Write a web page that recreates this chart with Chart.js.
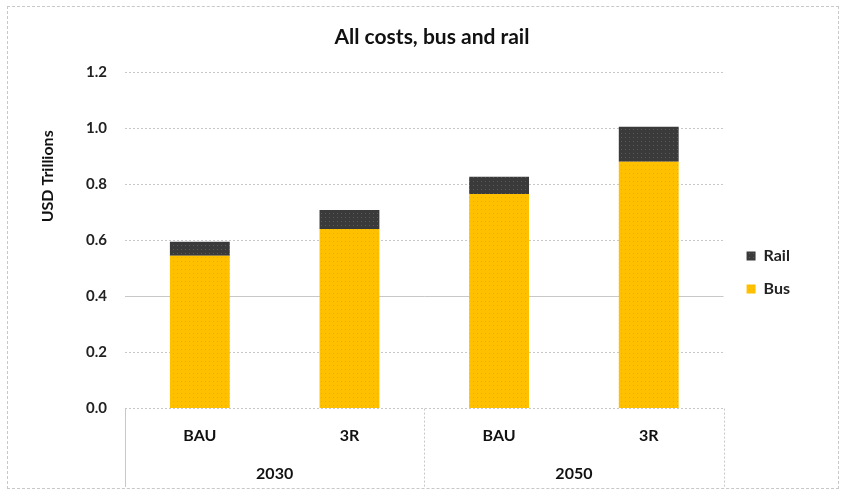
<!DOCTYPE html>
<html>
<head>
<meta charset="utf-8">
<script src="https://cdn.jsdelivr.net/npm/chart.js@4/dist/chart.umd.min.js"></script>
<style>
  body { margin: 0; background: #fff; }
  #wrap { position: relative; width: 842px; height: 491px; }
  #frame { position: absolute; left: 7px; top: 6px; width: 830px; height: 481px;
           border: 1px dashed #c8c8c8; pointer-events: none; }
</style>
</head>
<body>
<div id="wrap">
  <canvas id="chart" width="842" height="491"></canvas>
  <div id="frame"></div>
</div>
<script>
// data
const scenarios = ['BAU', '3R', 'BAU', '3R'];
const years = ['2030', '2050'];
const busCost = [0.545, 0.64, 0.765, 0.88];
const railCost = [0.05, 0.068, 0.062, 0.125];
const yTicks = [0, 0.2, 0.4, 0.6, 0.8, 1.0, 1.2];

const FONT = 'Lato, "Open Sans", sans-serif';
const gridGray = '#c8c8c8';

// small dotted texture like the original fill
function dotted(base, dot) {
  const c = document.createElement('canvas');
  c.width = 4; c.height = 4;
  const g = c.getContext('2d');
  g.fillStyle = base; g.fillRect(0, 0, 4, 4);
  g.fillStyle = dot; g.fillRect(1, 1, 1, 1);
  return g.createPattern(c, 'repeat');
}

// separators of the two-row category axis (left edge, between years, right edge)
const groupLines = {
  id: 'groupLines',
  afterDraw(chart) {
    const x = chart.scales.x;
    const half = (x.getPixelForValue(1) - x.getPixelForValue(0)) / 2;
    const edges = [x.getPixelForValue(0) - half,
                   (x.getPixelForValue(1) + x.getPixelForValue(2)) / 2,
                   x.getPixelForValue(3) + half];
    const ctx = chart.ctx;
    ctx.save();
    ctx.strokeStyle = gridGray;
    ctx.lineWidth = 1;
    edges.forEach((px, i) => {
      ctx.setLineDash(i === 0 ? [] : [2, 2]);
      ctx.beginPath();
      ctx.moveTo(Math.round(px) + 0.5, chart.chartArea.bottom);
      ctx.lineTo(Math.round(px) + 0.5, 487);
      ctx.stroke();
    });
    ctx.restore();
  }
};

const nb = '\u00a0';

new Chart(document.getElementById('chart'), {
  type: 'bar',
  data: {
    labels: scenarios,
    datasets: [
      { label: 'Bus', data: busCost, backgroundColor: dotted('#FFC000', '#F2A900'),
        barPercentage: 0.8, categoryPercentage: 0.5 },
      { label: 'Rail', data: railCost, backgroundColor: dotted('#3a3a3a', '#5a5a5a'),
        barPercentage: 0.8, categoryPercentage: 0.5 }
    ]
  },
  plugins: [groupLines],
  options: {
    responsive: false,
    animation: false,
    layout: { padding: { left: 34, right: 42, top: 12, bottom: 8 } },
    plugins: {
      title: {
        display: true,
        text: nb.repeat(6) + 'All costs, bus and rail',
        color: '#111',
        font: { family: FONT, size: 21, weight: 'bold' },
        padding: { top: 12.4, bottom: 22.4 }
      },
      legend: {
        position: 'right',
        reverse: true,
        title: { display: true, text: ' ', font: { size: 1 }, padding: { top: 49, bottom: 0 } },
        labels: {
          boxWidth: 9, boxHeight: 9, padding: 17,
          color: '#222',
          font: { family: FONT, size: 16, weight: 'bold' }
        }
      },
      tooltip: { enabled: false }
    },
    scales: {
      x: {
        stacked: true,
        weight: 0,
        grid: { display: false, drawTicks: false },
        border: { display: false },
        ticks: {
          padding: 18,
          color: '#111',
          font: { family: FONT, size: 16, weight: 'bold' }
        }
      },
      x2: {
        type: 'category',
        position: 'bottom',
        weight: 1,
        labels: years,
        offset: true,
        grid: { display: false, drawTicks: false },
        border: { display: false },
        ticks: {
          padding: 0,
          color: '#111',
          font: { family: FONT, size: 16, weight: 'bold' }
        }
      },
      y: {
        stacked: true,
        min: 0,
        max: 1.2,
        afterBuildTicks: s => { s.ticks = yTicks.map(v => ({ value: v })); },
        afterFit: s => { s.width = 91; },
        grid: { color: gridGray, drawTicks: false },
        border: { display: false, dash: ctx => (ctx.tick && ctx.tick.value === 0.4) ? [] : [2, 2] },
        ticks: {
          padding: 18,
          color: '#222',
          font: { family: FONT, size: 15, weight: 'bold' },
          callback: v => Number(v).toFixed(1)
        },
        title: {
          display: true,
          text: 'USD Trillions' + nb.repeat(15),
          align: 'end',
          color: '#111',
          font: { family: FONT, size: 16, weight: 'bold' },
          padding: { top: 4, bottom: 4 }
        }
      },
      yr: {
        position: 'right',
        display: true,
        grid: { display: false, drawTicks: false },
        border: { display: false },
        ticks: { display: false },
        afterFit: s => { s.width = 6; }
      }
    }
  }
});
</script>
</body>
</html>
